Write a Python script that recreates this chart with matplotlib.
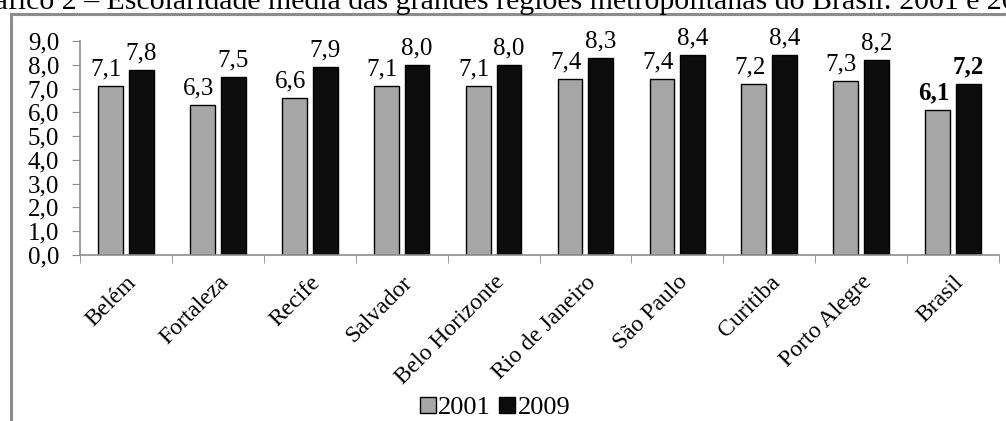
import matplotlib.pyplot as plt
import numpy as np
from matplotlib.patches import Rectangle

plt.rcParams['font.family'] = ['Liberation Serif', 'DejaVu Serif']

cidades = ["Belém", "Fortaleza", "Recife", "Salvador", "Belo Horizonte",
           "Rio de Janeiro", "São Paulo", "Curitiba", "Porto Alegre", "Brasil"]
v2001 = [7.1, 6.3, 6.6, 7.1, 7.1, 7.4, 7.4, 7.2, 7.3, 6.1]
v2009 = [7.8, 7.5, 7.9, 8.0, 8.0, 8.3, 8.4, 8.4, 8.2, 7.2]
yticks = [0, 1, 2, 3, 4, 5, 6, 7, 8, 9]
titulo = "Gráfico 2 – Escolaridade média das grandes regiões metropolitanas do Brasil: 2001 e 2009"

W, H = 1006, 421
fig = plt.figure(figsize=(W / 100, H / 100), dpi=100)

# moldura cinza do grafico (cortada a direita e embaixo)
top = 1 - 14 / H
fig.patches.append(Rectangle((11 / W, -0.2), 1.2, top + 0.2,
                             transform=fig.transFigure, fill=False,
                             edgecolor='#8c8c8c', linewidth=2.2))

# titulo cortado no topo
fig.text(0.502, 1 - 9 / H, titulo, ha='center', va='baseline', fontsize=21.5)

ax = fig.add_axes([80 / W, 166 / H, 919 / W, (380 - 166) / H])
x = np.arange(len(cidades))
w = 0.27
off = 0.168
b1 = ax.bar(x - off, v2001, w, color='#a6a6a6', edgecolor='black', linewidth=1)
b2 = ax.bar(x + off, v2009, w, color='#0d0d0d', edgecolor='black', linewidth=1)

for i in range(len(cidades)):
    bold = 'bold' if cidades[i] == "Brasil" else 'normal'
    ax.annotate(f"{v2001[i]:.1f}".replace('.', ','), (x[i] - off, v2001[i]),
                xytext=(-3, 4), textcoords='offset points', ha='center',
                va='bottom', fontsize=18, fontweight=bold)
    ax.annotate(f"{v2009[i]:.1f}".replace('.', ','), (x[i] + off, v2009[i]),
                xytext=(0, 4), textcoords='offset points', ha='center',
                va='bottom', fontsize=18, fontweight=bold)

ax.set_xlim(-0.5, len(cidades) - 0.5)
ax.set_ylim(0, 9)
ax.set_yticks(yticks)
ax.set_yticklabels([f"{t:.1f}".replace('.', ',') for t in yticks], fontsize=18)
ax.set_xticks(x)
ax.set_xticklabels(cidades, rotation=45, ha='right', rotation_mode='anchor', fontsize=17)
ax.tick_params(axis='x', length=0, pad=12)
ax.set_xticks(np.arange(len(cidades) + 1) - 0.5, minor=True)
ax.tick_params(axis='x', which='minor', length=6, color='#8c8c8c', direction='out')
ax.tick_params(axis='y', length=6, color='#8c8c8c', pad=9)
for s in ['top', 'right']:
    ax.spines[s].set_visible(False)
for s in ['left', 'bottom']:
    ax.spines[s].set_color('#8c8c8c')
    ax.spines[s].set_linewidth(1.2)

fig.legend([b1, b2], ["2001", "2009"], loc='center', bbox_to_anchor=(495 / W, 1 - 408 / H),
           ncol=2, frameon=False, fontsize=19, handlelength=0.6, handleheight=0.6,
           handletextpad=0.1, columnspacing=0.3, borderpad=0)

fig.savefig("out.png", dpi=100)
